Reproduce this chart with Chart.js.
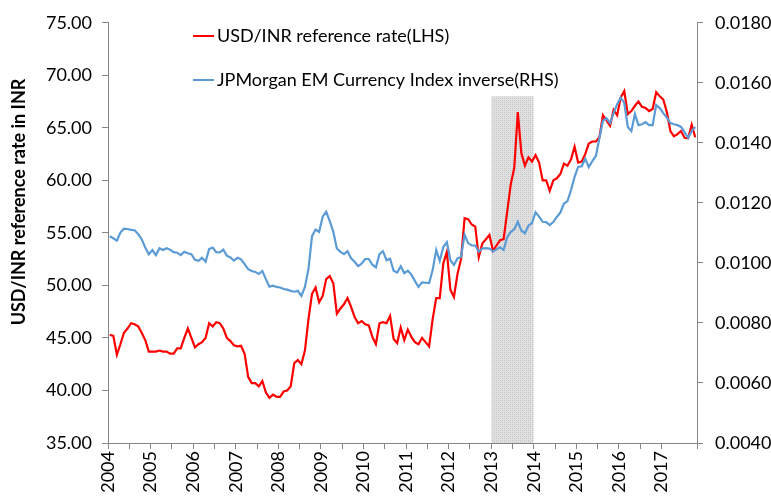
<!DOCTYPE html>
<html>
<head>
<meta charset="utf-8">
<script src="https://cdn.jsdelivr.net/npm/chart.js@4.4.0/dist/chart.umd.min.js"></script>
<style>
  html, body { margin: 0; padding: 0; background: #fff; }
</style>
</head>
<body>
<canvas id="chart" width="771" height="496"></canvas>
<script>
// monthly series, Jan 2004 .. Oct 2017
const startYear = 2004;

const inrRate = [
  45.3, 45.2, 43.4, 44.4, 45.5, 45.9, 46.4, 46.3, 46.1, 45.5,
  44.8, 43.7, 43.7, 43.7, 43.8, 43.7, 43.7, 43.5, 43.5, 44.0,
  44.0, 45.0, 45.9, 45.0, 44.1, 44.4, 44.6, 45.0, 46.4, 46.1,
  46.5, 46.4, 45.9, 45.0, 44.7, 44.3, 44.2, 44.25, 43.5, 41.3,
  40.7, 40.7, 40.4, 40.9, 39.8, 39.3, 39.6, 39.4, 39.4, 39.9,
  40.0, 40.4, 42.6, 42.9, 42.5, 43.8, 46.8, 49.2, 49.8, 48.4,
  49.0, 50.6, 50.9, 50.2, 47.3, 47.8, 48.2, 48.8, 47.95, 47.0,
  46.4, 46.6, 46.3, 46.2, 45.1, 44.4, 46.4, 46.5, 46.4, 47.1,
  44.9, 44.5, 46.0, 44.8, 45.8, 45.1, 44.6, 44.4, 45.0, 44.6,
  44.2, 46.8, 48.8, 48.8, 52.1, 53.2, 49.6, 48.9, 51.1, 52.5,
  56.4, 56.3, 55.8, 55.6, 52.7, 54.0, 54.4, 54.8, 53.3, 53.8,
  54.3, 54.4, 57.0, 59.6, 61.2, 66.5, 62.6, 61.4, 62.2, 61.8,
  62.4, 61.7, 60.0, 60.0, 59.0, 60.0, 60.2, 60.6, 61.6, 61.4,
  62.0, 63.2, 61.7, 61.8, 62.5, 63.5, 63.7, 63.7, 64.1, 66.2,
  65.7, 65.2, 66.7, 66.2, 67.9, 68.5, 66.3, 66.6, 67.1, 67.5,
  67.0, 66.9, 66.6, 66.8, 68.4, 68.0, 67.7, 66.5, 64.7, 64.2,
  64.4, 64.7, 64.05, 64.0, 65.3, 64.1
];

const emIndexInv = [
  0.01089, 0.01082, 0.01074, 0.01101, 0.01114, 0.01113, 0.01110, 0.01109, 0.01096, 0.01079,
  0.01051, 0.01029, 0.01043, 0.01026, 0.01049, 0.01043, 0.01049, 0.01044, 0.01036, 0.01034,
  0.01026, 0.01037, 0.01032, 0.01029, 0.01010, 0.01007, 0.01017, 0.01004, 0.01046, 0.01051,
  0.01036, 0.01035, 0.01044, 0.01024, 0.01018, 0.01008, 0.01017, 0.01012, 0.00996, 0.00979,
  0.00973, 0.00970, 0.00963, 0.00973, 0.00946, 0.00921, 0.00924, 0.00920, 0.00918, 0.00913,
  0.00911, 0.00907, 0.00904, 0.00907, 0.00890, 0.00920, 0.00980, 0.01089, 0.01111, 0.01103,
  0.01154, 0.01170, 0.01139, 0.01104, 0.01048, 0.01037, 0.01029, 0.01039, 0.01015, 0.01004,
  0.00989, 0.00998, 0.01013, 0.01013, 0.00994, 0.00985, 0.01029, 0.01039, 0.01009, 0.01014,
  0.00974, 0.00968, 0.00989, 0.00966, 0.00974, 0.00961, 0.00940, 0.00920, 0.00935, 0.00934,
  0.00933, 0.00976, 0.01043, 0.01007, 0.01053, 0.01069, 0.01009, 0.00993, 0.01015, 0.01020,
  0.01094, 0.01066, 0.01058, 0.01058, 0.01037, 0.01048, 0.01049, 0.01048, 0.01038, 0.01045,
  0.01052, 0.01043, 0.01086, 0.01103, 0.01112, 0.01137, 0.01108, 0.01099, 0.01124, 0.01133,
  0.01169, 0.01154, 0.01137, 0.01136, 0.01126, 0.01136, 0.01153, 0.01168, 0.01198, 0.01206,
  0.01243, 0.01287, 0.01320, 0.01322, 0.01347, 0.01319, 0.01339, 0.01356, 0.01416, 0.01474,
  0.01482, 0.01466, 0.01499, 0.01529, 0.01551, 0.01533, 0.01453, 0.01439, 0.01496, 0.01459,
  0.01462, 0.01469, 0.01459, 0.01459, 0.01526, 0.01516, 0.01499, 0.01484, 0.01466, 0.01462,
  0.01459, 0.01453, 0.01436, 0.01417, 0.01439, 0.01453
];

// shaded period (2013) and its height on the left axis
const shadeYears = [2013, 2014];
const shadeLevel = 68;

const leftTicks = { min: 35, max: 75, step: 5 };
const rightTicks = { min: 0.004, max: 0.018, step: 0.002 };

const seriesNames = ["USD/INR reference rate(LHS)", "JPMorgan EM Currency Index inverse(RHS)"];
const seriesColors = ["#ff0000", "#5b9bd5"];
const leftTitle = "USD/INR reference rate in INR";

const axisGray = "#868686";
const fontFace = "Lato";

// month i sits in the middle of its slot on the time axis
const toPoints = arr => arr.map((v, i) => ({ x: startYear + (i + 0.5) / 12, y: v }));
const endYear = startYear + inrRate.length / 12;

function hatchPattern() {
  const c = document.createElement("canvas");
  c.width = 4; c.height = 4;
  const g = c.getContext("2d");
  g.fillStyle = "#e0e0e0";
  g.fillRect(0, 0, 4, 4);
  g.fillStyle = "#c2c2c2";
  g.fillRect(0, 0, 1, 1);
  g.fillRect(2, 2, 1, 1);
  g.fillStyle = "#d0d0d0";
  g.fillRect(0, 2, 1, 1);
  g.fillRect(2, 0, 1, 1);
  return g.createPattern(c, "repeat");
}

// legend inside the plot (two rows) and the left axis title
const annotations = {
  id: "annotations",
  afterDraw(chart) {
    const ctx = chart.ctx;
    const rows = [36, 80];
    ctx.save();
    ctx.font = "18px " + fontFace;
    ctx.textBaseline = "middle";
    ctx.fillStyle = "#000";
    rows.forEach((y, k) => {
      ctx.strokeStyle = seriesColors[k];
      ctx.lineWidth = 2;
      ctx.beginPath();
      ctx.moveTo(193, y);
      ctx.lineTo(214, y);
      ctx.stroke();
      ctx.fillText(seriesNames[k], 217, y);
    });

    ctx.translate(19, 202);
    ctx.rotate(-Math.PI / 2);
    ctx.textAlign = "center";
    ctx.font = "bold 18px " + fontFace;
    ctx.fillText(leftTitle, 0, 0);
    ctx.restore();
  }
};

const isYear = v => Math.abs(v - Math.round(v)) < 1e-6;

new Chart(document.getElementById("chart"), {
  type: "line",
  data: {
    datasets: [
      {
        label: seriesNames[0],
        data: toPoints(inrRate),
        yAxisID: "y",
        borderColor: seriesColors[0],
        borderWidth: 2.2,
        pointRadius: 0,
        tension: 0,
        order: 2
      },
      {
        label: seriesNames[1],
        data: toPoints(emIndexInv),
        yAxisID: "y1",
        borderColor: seriesColors[1],
        borderWidth: 2.2,
        pointRadius: 0,
        tension: 0,
        order: 1
      },
      {
        label: "shade",
        data: shadeYears.map(x => ({ x: x, y: shadeLevel })),
        yAxisID: "y",
        borderWidth: 0,
        borderColor: "rgba(0,0,0,0)",
        backgroundColor: hatchPattern(),
        fill: "start",
        pointRadius: 0,
        order: 3
      }
    ]
  },
  options: {
    responsive: false,
    animation: false,
    layout: { padding: { top: 22, left: 0, right: 0, bottom: 0 } },
    plugins: {
      legend: { display: false },
      tooltip: { enabled: false }
    },
    scales: {
      x: {
        type: "linear",
        min: startYear,
        max: endYear,
        afterFit: s => { s.height = 53; },
        border: { display: true, color: axisGray, width: 1 },
        grid: { drawOnChartArea: false, drawTicks: true, tickLength: 6, color: axisGray },
        ticks: {
          stepSize: 0.5,
          autoSkip: false,
          minRotation: 90,
          maxRotation: 90,
          padding: 2,
          color: "#000",
          font: { family: fontFace, size: 18 },
          callback: v => isYear(v) ? String(Math.round(v)) : ""
        }
      },
      y: {
        position: "left",
        min: leftTicks.min,
        max: leftTicks.max,
        afterFit: s => { s.width = 108; },
        border: { display: true, color: axisGray, width: 1 },
        grid: { drawOnChartArea: false, tickLength: 6, color: axisGray },
        ticks: {
          stepSize: leftTicks.step,
          padding: 10,
          color: "#000",
          font: { family: fontFace, size: 18 },
          callback: v => v.toFixed(2)
        }
      },
      y1: {
        position: "right",
        min: rightTicks.min,
        max: rightTicks.max,
        afterFit: s => { s.width = 74; },
        border: { display: true, color: axisGray, width: 1 },
        grid: { drawOnChartArea: false, tickLength: 6, color: axisGray },
        ticks: {
          stepSize: rightTicks.step,
          padding: 12,
          color: "#000",
          font: { family: fontFace, size: 18 },
          callback: v => v.toFixed(4)
        }
      }
    }
  },
  plugins: [annotations]
});
</script>
</body>
</html>
